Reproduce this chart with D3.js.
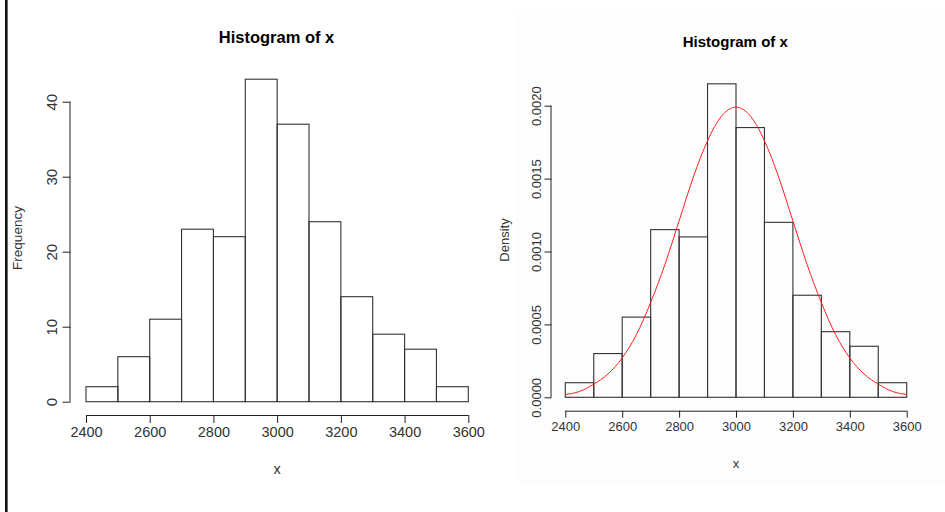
<!DOCTYPE html>
<html>
<head>
<meta charset="utf-8">
<script src="https://cdn.jsdelivr.net/npm/d3@7"></script>
<style>
  body { margin: 0; background: #ffffff; }
  text { font-family: "Liberation Sans", Arial, sans-serif; }
</style>
</head>
<body>
<script>
// bin edges and counts
var binStarts = [2400, 2500, 2600, 2700, 2800, 2900, 3000, 3100, 3200, 3300, 3400, 3500]
var binWidth = 100
var counts = [2, 6, 11, 23, 22, 43, 37, 24, 14, 9, 7, 2]
var densities = [0.0001, 0.0003, 0.00055, 0.00115, 0.0011, 0.00215, 0.00185, 0.0012, 0.0007, 0.00045, 0.00035, 0.0001]

// red curve, read at every 50 along x
var curveX = [2400, 2450, 2500, 2550, 2600, 2650, 2700, 2750, 2800, 2850, 2900, 2950, 3000,
              3050, 3100, 3150, 3200, 3250, 3300, 3350, 3400, 3450, 3500, 3550, 3600]
var curveY = [0.00002, 0.00004, 0.00009, 0.00016, 0.00027, 0.00043, 0.00065, 0.00091, 0.00121, 0.00151, 0.00176, 0.00193, 0.00199,
              0.00193, 0.00176, 0.00151, 0.00121, 0.00091, 0.00065, 0.00043, 0.00027, 0.00016, 0.00009, 0.00004, 0.00002]

var xTicks = [2400, 2600, 2800, 3000, 3200, 3400, 3600]
var freqTicks = [0, 10, 20, 30, 40]
var densTicks = [0, 0.0005, 0.001, 0.0015, 0.002]

var W = 945, H = 512

var svg = d3.select("body").append("svg")
    .attr("width", W)
    .attr("height", H)

// faint panel background on the right
svg.append("rect")
    .attr("x", 517).attr("y", 10)
    .attr("width", W - 517).attr("height", 473)
    .attr("fill", "#fdfdfd")

// black bar on left edge
svg.append("rect")
    .attr("x", 5).attr("y", 0)
    .attr("width", 2.6).attr("height", H)
    .attr("fill", "#111")

function panel(opt) {
  var g = svg.append("g")
  var x = d3.scaleLinear().domain([2400, 3600]).range(opt.xr)
  var y = d3.scaleLinear().domain(opt.ydom).range(opt.yr)

  // bars
  g.selectAll("rect.bar")
    .data(opt.values)
    .enter().append("rect")
    .attr("class", "bar")
    .attr("x", function(d, i) { return x(binStarts[i]) })
    .attr("width", function(d, i) { return x(binStarts[i] + binWidth) - x(binStarts[i]) })
    .attr("y", function(d) { return y(d) })
    .attr("height", function(d) { return y(0) - y(d) })
    .attr("fill", "none")
    .attr("stroke", "#333")
    .attr("stroke-width", 1.1)

  // x axis
  var xa = g.append("g")
    .attr("transform", "translate(0," + opt.xAxisY + ")")
    .call(d3.axisBottom(x).tickValues(xTicks).tickSize(opt.tick).tickPadding(opt.xPad).tickFormat(d3.format("d")))
  xa.select(".domain").attr("stroke", "#222").attr("d", "M" + x(2400) + ",0.5H" + x(3600))
  xa.selectAll("line").attr("stroke", "#222")
  xa.selectAll("text").attr("font-size", opt.tickFont).attr("fill", "#333")
    .attr("font-family", "Liberation Sans, Arial, sans-serif")

  // y axis
  var ya = g.append("g")
    .attr("transform", "translate(" + opt.yAxisX + ",0)")
    .call(d3.axisLeft(y).tickValues(opt.yticks).tickSize(opt.tick).tickFormat(opt.yfmt))
  ya.select(".domain").attr("stroke", "#222")
    .attr("d", "M-0.5," + y(opt.yticks[0]) + "V" + y(opt.yticks[opt.yticks.length - 1]))
  ya.selectAll("line").attr("stroke", "#222")
  ya.selectAll(".tick text")
    .attr("font-size", opt.yTickFont).attr("fill", "#333")
    .attr("font-family", "Liberation Sans, Arial, sans-serif")
    .attr("x", null).attr("dy", null)
    .attr("text-anchor", "middle")
    .attr("transform", "translate(" + (-opt.yPad) + ",0) rotate(-90)")

  // title and axis titles
  svg.append("text")
    .attr("x", opt.titleX).attr("y", opt.titleY)
    .attr("text-anchor", "middle")
    .attr("font-weight", "bold")
    .attr("font-size", opt.titleFont)
    .attr("fill", "#000")
    .text("Histogram of x")
  svg.append("text")
    .attr("x", (opt.xr[0] + opt.xr[1]) / 2).attr("y", opt.xLabY)
    .attr("text-anchor", "middle")
    .attr("font-size", opt.tickFont)
    .attr("fill", "#333")
    .text("x")
  svg.append("text")
    .attr("transform", "translate(" + opt.yLabX + "," + opt.yLabMid + ") rotate(-90)")
    .attr("text-anchor", "middle")
    .attr("font-size", opt.yLabFont)
    .attr("fill", "#333")
    .text(opt.ylab)

  return {x: x, y: y, g: g}
}

// left panel: frequencies
panel({
  values: counts,
  xr: [86, 468.3], ydom: [0, 40], yr: [401.7, 101.7],
  xAxisY: 415, yAxisX: 70.5, tick: 8, xPad: 4,
  yticks: freqTicks, yfmt: d3.format("d"), yPad: 14,
  tickFont: "14.5px", yTickFont: "15px",
  titleX: 276.5, titleY: 43, titleFont: "16.5px",
  xLabY: 474, yLabX: 22, yLabMid: 238, yLabFont: "13.5px",
  ylab: "Frequency"
})

// right panel: densities with red curve
var right = panel({
  values: densities,
  xr: [565.3, 906.7], ydom: [0, 0.002], yr: [397.3, 105.7],
  xAxisY: 410.7, yAxisX: 551.5, tick: 7, xPad: 4,
  yticks: densTicks, yfmt: d3.format(".4f"), yPad: 11,
  tickFont: "13px", yTickFont: "13px",
  titleX: 735.3, titleY: 47, titleFont: "15px",
  xLabY: 468, yLabX: 509, yLabMid: 240, yLabFont: "13px",
  ylab: "Density"
})

right.g.append("path")
  .datum(curveX.map(function(d, i) { return [d, curveY[i]] }))
  .attr("fill", "none")
  .attr("stroke", "#ff2020")
  .attr("stroke-width", 1)
  .attr("d", d3.line()
    .x(function(d) { return right.x(d[0]) })
    .y(function(d) { return right.y(d[1]) })
    .curve(d3.curveMonotoneX))
</script>
</body>
</html>
